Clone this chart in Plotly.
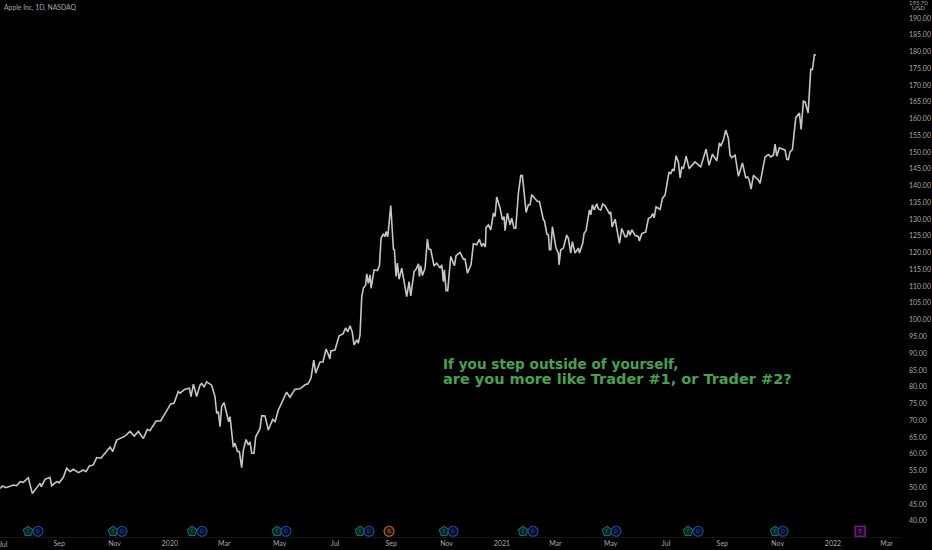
import pandas as pd
import plotly.graph_objects as go

START = pd.Timestamp("2019-07-01")

# Days after 2019-07-01 and closing price
days = [-3,-0.4,3.3,7.7,11.4,15.1,18.8,22.4,27.9,32.3,36.4,40.8,42.3,46.3,51.8,53.7,59.2,62.1,66.5,70.2,73.9,77.6,83.1,88.6,91.5,95.2,99.6,103.3,108,118,121,125.3,134.5,140,144.8,149.2,154.7,159.1,162,168.7,173.8,182.3,184.9,188.5,193.3,195.2,200.7,205.4,207.3,209.9,213.5,217.2,219,221.6,224.5,230,233.7,235.6,237.4,239.3,241.1,243.7,246.6,248.8,250.3,252.1,253.9,255.8,258.4,260.6,263.1,265,268,270.5,272.3,274.2,276.7,278.6,283.4,285.2,288.9,292.5,297.3,299.9,303.6,312.7,316.4,321.9,327.5,333,336.3,339.6,342.6,344.8,349.5,352.8,356.2,358,360.5,361.3,366,370.5,374.9,377.8,380,382.6,385,387,390,391.7,393.6,395.5,397.3,399.9,401,402.8,404.7,405.8,409.1,412.8,415,416.8,419.4,421.2,422.3,424.2,427.5,430.4,431.5,433.3,434.8,436.6,439.6,445.1,447.7,449.5,453.2,455.4,458,459.1,460.5,462.4,465.3,467.9,469.4,471.6,475.2,478.2,481.9,483.7,485.5,486.6,488.5,490.3,493.6,497.7,499.5,503.9,507.6,509.4,512,516,518.6,522.3,525.2,527.8,529.6,531.8,532.6,535.1,537.7,540.7,542.5,544.3,548,550.6,552.4,553.5,556.1,559,560.9,563.4,565.3,568.2,570.8,572.6,576.7,579.2,581.1,582.9,586.6,589.2,591.4,595.8,596.9,599.5,601.3,602.4,603.9,605.7,609.7,612.3,613,614.9,617.8,621.5,623.3,625.9,627.7,630.7,634.4,635.5,639.1,640.6,642.8,646.5,648,649.8,651.6,654.6,656.4,659,661.2,663.8,668.5,670,671.5,674.8,679.6,682.1,685.8,687.6,689.5,691.3,693.2,696.8,700.5,701.6,704.2,708.6,711.5,714.5,716.3,717.8,720,724.4,727,729.9,734.3,736.2,738,739.8,742,744.6,746.5,748.3,750.1,753.1,756.4,763,769.2,772.2,775.1,778.4,782.1,786.9,789.8,791.3,794.2,796.8,799.7,801.6,803.4,807.1,810.8,815.2,818.8,821,822.5,824.7,827.3,832.8,834.6,840.2,843.8,846.4,849.4,851.2,853,856,860.4,862.2,864.1,865.9,867.7,870.3,874,878,879.9,882.4,884.3,887.6,890.5,892.4,894.6,896]
prices = [49.7,50.4,49.9,50.4,50.7,50.5,51.7,51.5,52.9,48.2,49.7,51.2,50.2,52.4,53.0,50.5,51.7,51.4,53.0,55.7,54.7,55.4,54.4,55.2,54.7,56.4,56.7,58.9,58.7,62.0,60.7,64.1,65.3,66.7,65.3,66.7,64.6,67.3,66.9,69.8,69.8,73.6,74.9,75.1,78.6,78.1,79.3,79.6,77.1,80.8,77.1,80.5,81.0,80.0,81.5,80.5,77.1,72.1,72.6,68.1,74.1,75.3,72.1,69.6,71.1,65.6,62.0,63.2,60.7,60.7,55.9,61.2,64.3,62.7,63.6,60.2,60.2,65.1,67.6,71.4,71.3,67.1,70.3,69.6,73.1,78.4,76.9,79.3,79.4,80.6,80.9,82.6,88.0,84.1,87.4,87.4,91.3,90.1,88.3,90.7,91.0,95.2,95.8,97.6,96.4,98.2,96.4,92.5,94,93,95.5,106.9,109.4,110.4,113.7,110.9,113.4,109.4,114.9,114.7,116.1,124.3,125.6,124.8,126.3,124.8,134.1,121.1,120.9,112.9,116.9,112.1,115.4,106.9,111.4,107.1,114.4,115.1,116.7,112.9,116.1,113.2,115.4,124.1,121.1,120.9,116.1,116.9,115.4,116.4,111.4,114.9,108.7,108.7,118.9,116.1,119.1,120.1,118.1,118.1,113.9,116.4,122.7,122.4,124.0,121.9,122.8,121.7,127.6,128.3,126.8,131.8,130.8,136.6,133.3,129.8,130.8,126.6,131.8,128.3,130.3,127.3,127.3,137.8,143.0,143.0,132,134.3,134.3,137.3,136.3,135.3,135.3,129.8,129.6,125.6,125.3,120.9,120.9,127.8,121.4,119.9,116.4,120.9,121.4,125.3,124.3,119.9,123.3,119.9,121.4,119.9,122.8,125.8,126.6,132.8,131.3,134.3,132.8,134.6,133.1,132.7,134.5,134.0,131.7,132.2,127.7,130,122.8,127.2,124.8,124.8,126.7,125.2,126.9,125.2,124.8,123.5,125.7,126.2,130.2,130.7,131.7,130.4,133.7,132.9,136.2,137.2,144.1,143.6,144.8,144.4,148.9,147.1,142.3,145.6,145.1,148.8,145.1,147.1,145.6,148.6,150.9,146.1,149.4,147.4,152.8,151.8,153.6,156.6,154.1,149.1,148.4,149.1,142.8,146.8,142.4,142.6,141.8,139,143.1,141.7,140.7,148.6,149.3,148.6,149.1,152.4,148.8,151.3,150.8,150.6,147.9,147.8,150.1,150.8,160.3,161.7,156.8,165.2,165,161.7,174.7,174.7,179.2,178.9]

earnings_days = [27.6,121.3,208.4,302.1,393.6,486.2,573.3,665.9,755.2,851.2]
dividend_days = [38.6,131.2,219.4,312,403.5,496.1,584.3,675.8,766.3,860]
split_days = [425.6]
future_earnings_days = [944.9]

x_tick_dates = ["2019-09-01","2019-11-01","2020-01-01","2020-03-01","2020-05-01","2020-07-01","2020-09-01","2020-11-01","2021-01-01","2021-03-01","2021-05-01","2021-07-01","2021-09-01","2021-11-01","2022-01-01","2022-03-01"]
x_tick_labels = ["Sep","Nov","2020","Mar","May","Jul","Sep","Nov","2021","Mar","May","Jul","Sep","Nov","2022","Mar"]
y_ticks = list(range(40, 195, 5))
top_price_label = "195.70"


def to_dates(values):
    return START + pd.to_timedelta(values, unit="D")


BADGE_PRICE = 36.9
TEXT = "#a4a7ae"
GREEN = "#48a052"
fig = go.Figure()
fig.add_trace(go.Scatter(x=to_dates(days), y=prices, mode="lines",
                         line=dict(color="#c6c6c6", width=1.6), hoverinfo="skip"))


def badges(day_values, symbol, color, fill, label):
    fig.add_trace(go.Scatter(
        x=to_dates(day_values), y=[BADGE_PRICE] * len(day_values),
        mode="markers+text", text=[label] * len(day_values),
        textposition="middle center", textfont=dict(size=6, color=color, family="Roboto"),
        marker=dict(symbol=symbol, size=10, color=fill, line=dict(color=color, width=1.1)),
        hoverinfo="skip"))


badges(earnings_days, "pentagon", "#12695f", "#04201e", "E")
badges(dividend_days, "circle", "#1f4fa8", "#060f26", "D")
badges(split_days, "circle", "#b8702a", "#241405", "S")
badges(future_earnings_days, "square", "#8a2aa8", "#1f0828", "E")


def page_text(text, x, y, anchor="center", size=7.5, color=TEXT, family=None, weight=None):
    font = dict(size=size, color=color)
    if family:
        font["family"] = family
    if weight:
        font["weight"] = weight
    return dict(text=text, x=x / 901, y=1 - y / 537, xref="paper", yref="paper",
                xanchor=anchor, yanchor="middle", showarrow=False, font=font)


fig.update_layout(
    width=932, height=550, showlegend=False,
    paper_bgcolor="#000000", plot_bgcolor="#000000",
    margin=dict(l=0, r=31, t=0, b=13),
    font=dict(family="Lato, DejaVu Sans, sans-serif", size=7, color=TEXT),
    xaxis=dict(type="date", range=[to_dates(-3.3), to_dates(990)],
               tickmode="array", tickvals=x_tick_dates, ticktext=x_tick_labels,
               tickangle=0, showgrid=False, zeroline=False, showline=True, linecolor="#141414",
               ticks="", ticklabelstandoff=0),
    yaxis=dict(side="right", range=[35.2, 195.4], tickmode="array", tickvals=y_ticks,
               ticktext=[f"{v:.2f}" for v in y_ticks], showgrid=False, zeroline=False,
               showline=False, ticks="", ticklabelstandoff=7),
    annotations=[
        page_text("Apple Inc, 1D, NASDAQ", 2, 7, "left", size=6.8),
        page_text(top_price_label, 918, 2.5, size=6),
        page_text("USD", 918, 8, size=6.5),
        page_text("Jul", 3, 544, size=7),
        page_text("If you step outside of yourself,", 441, 364, "left", size=13.6, color=GREEN, family="DejaVu Sans", weight=700),
        page_text("are you more like Trader #1, or Trader #2?", 441, 379, "left", size=14.5, color=GREEN, family="DejaVu Sans", weight=700),
    ],
)

fig.write_html("out.html", config={"displayModeBar": False},
               post_script="document.body.style.margin='0';document.body.style.background='#000';document.documentElement.style.overflow='hidden';")
